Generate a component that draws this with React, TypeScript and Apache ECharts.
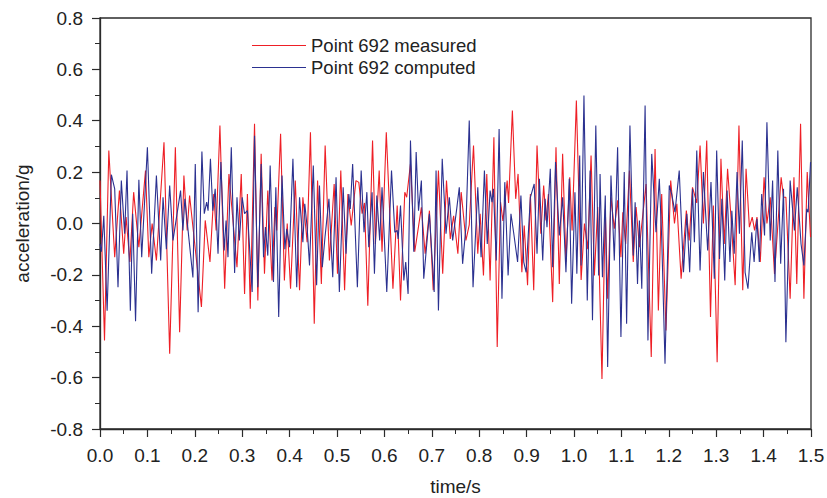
import React, { useEffect, useRef } from "react";
import * as echarts from "echarts";

const measuredTime = [
  0.000, 0.0095, 0.0186, 0.031, 0.041, 0.050, 0.055, 0.063, 0.071, 0.082, 0.096, 0.103, 0.110, 0.119, 0.135, 0.147, 0.159, 0.168, 0.177, 0.184,
  0.189, 0.214, 0.222, 0.232, 0.240, 0.245, 0.253, 0.263, 0.272, 0.289, 0.298, 0.305, 0.311, 0.317, 0.326, 0.333, 0.340, 0.347, 0.354, 0.363,
  0.369, 0.373, 0.381, 0.389, 0.395, 0.402, 0.412, 0.421, 0.428, 0.437, 0.444, 0.452, 0.459, 0.467, 0.475, 0.484, 0.494, 0.501, 0.508, 0.516,
  0.523, 0.530, 0.540, 0.546, 0.553, 0.558, 0.565, 0.575, 0.581, 0.589, 0.595, 0.604, 0.618, 0.627, 0.634, 0.643, 0.647, 0.655, 0.664, 0.678,
  0.686, 0.695, 0.703, 0.714, 0.723, 0.731, 0.739, 0.746, 0.755, 0.762, 0.772, 0.779, 0.788, 0.797, 0.802, 0.809, 0.816, 0.823, 0.831, 0.838,
  0.845, 0.850, 0.859, 0.862, 0.870, 0.877, 0.882, 0.890, 0.895, 0.902, 0.908, 0.915, 0.922, 0.930, 0.936, 0.941, 0.946, 0.955, 0.962, 0.969,
  0.976, 0.983, 0.991, 0.996, 1.005, 1.015, 1.022, 1.029, 1.036, 1.043, 1.050, 1.059, 1.066, 1.071, 1.078, 1.085, 1.092, 1.099, 1.103, 1.109,
  1.117, 1.125, 1.131, 1.138, 1.152, 1.163, 1.171, 1.178, 1.185, 1.194, 1.204, 1.212, 1.217, 1.226, 1.237, 1.243, 1.250, 1.259, 1.266, 1.273,
  1.280, 1.288, 1.294, 1.302, 1.310, 1.317, 1.324, 1.331, 1.340, 1.348, 1.356, 1.363, 1.370, 1.376, 1.381, 1.386, 1.393, 1.401, 1.407, 1.414,
  1.423, 1.437, 1.442, 1.447, 1.456, 1.464, 1.470, 1.478, 1.485, 1.492, 1.499,
];
const measuredAccel = [
  0.167, -0.455, 0.284, -0.131, 0.128, -0.118, 0.025, -0.150, 0.122, -0.092, 0.206, -0.131, 0.000, -0.144, 0.316, -0.507, 0.297, -0.423, 0.187, -0.027,
  0.109, -0.325, 0.012, -0.150, 0.115, -0.027, 0.381, -0.254, 0.193, -0.170, 0.193, -0.274, 0.115, -0.332, 0.388, -0.300, 0.271, -0.196, 0.128, -0.222,
  0.064, -0.027, 0.349, -0.222, 0.000, -0.254, 0.167, -0.260, 0.102, -0.073, 0.355, -0.390, 0.167, -0.235, 0.304, -0.144, 0.154, -0.196, 0.206, -0.260,
  0.115, -0.008, 0.167, 0.160, 0.038, 0.080, -0.320, 0.323, -0.080, 0.206, -0.110, 0.355, -0.254, 0.070, -0.300, 0.122, 0.102, 0.232, -0.110, 0.063,
  -0.118, 0.050, -0.260, 0.206, -0.196, 0.167, -0.060, 0.030, -0.118, 0.122, -0.066, -0.005, 0.304, -0.118, 0.038, -0.202, 0.193, -0.222, 0.336, -0.481,
  0.083, 0.010, 0.167, 0.080, 0.440, 0.096, 0.193, -0.190, -0.008, -0.240, 0.115, -0.260, 0.304, -0.040, 0.148, 0.012, 0.115, -0.306, 0.297, -0.235,
  0.271, -0.150, 0.180, -0.027, 0.479, -0.220, 0.000, -0.100, 0.265, -0.202, 0.064, -0.605, 0.057, -0.293, 0.102, -0.020, 0.090, -0.131, 0.044, -0.080,
  0.206, -0.150, 0.064, -0.092, 0.154, -0.520, 0.290, -0.339, 0.115, -0.416, 0.167, 0.000, 0.077, -0.215, 0.050, -0.066, 0.141, 0.080, 0.304, 0.000,
  0.323, -0.364, 0.070, -0.540, 0.252, -0.080, 0.213, 0.030, -0.240, 0.381, -0.260, 0.213, -0.014, 0.025, -0.027, 0.025, -0.150, 0.180, 0.000, 0.102,
  -0.196, 0.180, 0.102, 0.102, -0.293, 0.180, -0.235, 0.388, -0.293, 0.200, -0.053,
];

const computedTime = [
  0.000, 0.003, 0.008, 0.015, 0.024, 0.031, 0.038, 0.045, 0.052, 0.057, 0.064, 0.069, 0.075, 0.082, 0.088, 0.100, 0.109, 0.119, 0.128, 0.133,
  0.140, 0.147, 0.154, 0.170, 0.175, 0.179, 0.196, 0.201, 0.207, 0.215, 0.220, 0.225, 0.228, 0.233, 0.238, 0.243, 0.249, 0.255, 0.262, 0.266,
  0.270, 0.277, 0.284, 0.289, 0.294, 0.300, 0.305, 0.311, 0.321, 0.326, 0.333, 0.340, 0.345, 0.349, 0.354, 0.359, 0.366, 0.371, 0.377, 0.384,
  0.390, 0.394, 0.400, 0.407, 0.415, 0.421, 0.428, 0.432, 0.437, 0.442, 0.450, 0.457, 0.463, 0.469, 0.475, 0.483, 0.491, 0.498, 0.505, 0.513,
  0.519, 0.525, 0.528, 0.533, 0.543, 0.551, 0.557, 0.563, 0.567, 0.574, 0.579, 0.584, 0.590, 0.595, 0.605, 0.615, 0.622, 0.627, 0.629, 0.634,
  0.641, 0.645, 0.650, 0.655, 0.662, 0.667, 0.672, 0.678, 0.683, 0.695, 0.705, 0.709, 0.714, 0.722, 0.730, 0.737, 0.744, 0.753, 0.758, 0.765,
  0.772, 0.779, 0.787, 0.797, 0.804, 0.811, 0.817, 0.823, 0.827, 0.830, 0.836, 0.842, 0.848, 0.854, 0.861, 0.867, 0.873, 0.881, 0.888, 0.894,
  0.899, 0.908, 0.916, 0.922, 0.927, 0.934, 0.939, 0.943, 0.950, 0.955, 0.961, 0.969, 0.976, 0.983, 0.990, 0.995, 1.002, 1.006, 1.012, 1.015,
  1.021, 1.028, 1.034, 1.039, 1.046, 1.052, 1.055, 1.060, 1.066, 1.071, 1.078, 1.085, 1.092, 1.099, 1.106, 1.111, 1.118, 1.125, 1.129, 1.134,
  1.138, 1.143, 1.150, 1.156, 1.164, 1.173, 1.180, 1.185, 1.192, 1.201, 1.206, 1.213, 1.222, 1.231, 1.238, 1.244, 1.250, 1.254, 1.259, 1.266,
  1.273, 1.282, 1.289, 1.296, 1.301, 1.307, 1.312, 1.318, 1.323, 1.329, 1.333, 1.338, 1.344, 1.349, 1.355, 1.361, 1.367, 1.375, 1.380, 1.386,
  1.391, 1.396, 1.402, 1.407, 1.414, 1.419, 1.424, 1.430, 1.436, 1.442, 1.447, 1.456, 1.465, 1.471, 1.479, 1.485, 1.491, 1.494, 1.499,
];
const computedAccel = [
  -0.080, -0.110, 0.030, -0.340, 0.190, 0.135, -0.248, 0.167, -0.040, 0.206, -0.340, 0.038, -0.380, 0.170, -0.131, 0.297, -0.196, 0.187, -0.144, 0.102,
  -0.100, 0.148, -0.066, 0.128, -0.027, 0.096, -0.210, 0.232, -0.345, 0.280, 0.038, 0.083, 0.050, 0.252, 0.050, 0.135, -0.118, 0.239, -0.105, 0.012,
  -0.131, 0.297, -0.193, 0.102, -0.066, 0.102, 0.038, 0.050, -0.267, 0.342, -0.248, 0.232, -0.131, -0.014, -0.125, 0.226, -0.228, 0.141, -0.364, 0.187,
  -0.100, -0.021, -0.092, 0.252, -0.248, 0.102, -0.073, 0.077, -0.014, -0.163, 0.226, -0.240, 0.148, -0.170, -0.047, 0.096, -0.209, 0.180, -0.267, 0.141,
  -0.118, 0.115, 0.057, 0.232, -0.248, 0.206, -0.034, 0.122, -0.092, 0.122, -0.196, 0.109, -0.066, 0.141, -0.267, 0.206, -0.034, -0.027, -0.060, 0.070,
  -0.222, -0.150, -0.274, 0.323, -0.110, 0.278, 0.050, 0.167, -0.215, 0.038, -0.267, 0.206, -0.339, 0.252, -0.040, 0.102, -0.066, 0.064, 0.141, -0.157,
  -0.014, 0.401, -0.248, 0.141, -0.131, 0.206, -0.080, 0.128, 0.083, 0.135, -0.144, 0.368, -0.293, 0.161, -0.202, 0.038, -0.040, -0.150, 0.109, -0.150,
  -0.190, 0.102, 0.154, -0.118, 0.174, -0.144, 0.096, -0.014, 0.213, -0.170, 0.239, -0.047, 0.102, -0.190, 0.174, -0.312, 0.122, -0.196, 0.265, -0.163,
  0.498, -0.300, 0.206, -0.377, 0.381, -0.202, 0.193, -0.209, 0.109, -0.559, 0.187, -0.144, 0.297, -0.442, 0.200, -0.390, 0.381, -0.125, 0.083, -0.235,
  0.012, -0.254, 0.459, -0.455, 0.271, -0.034, 0.174, -0.053, -0.546, 0.148, 0.115, 0.044, 0.206, -0.190, 0.038, -0.190, 0.135, -0.073, 0.284, -0.183,
  0.200, -0.105, 0.161, -0.215, 0.284, -0.138, 0.096, -0.222, 0.128, -0.150, 0.050, -0.118, 0.200, -0.040, 0.323, -0.190, -0.254, -0.034, -0.150, 0.018,
  -0.150, 0.115, -0.047, 0.394, -0.066, 0.167, -0.228, 0.284, -0.157, 0.135, -0.462, 0.167, -0.027, 0.141, -0.080, -0.163, 0.057, 0.044, 0.239,
];

const seriesNames = ["Point 692 measured", "Point 692 computed"];
const xAxisTitle = "time/s";
const yAxisTitle = "acceleration/g";

const FONT = "'Liberation Sans', Arial, Helvetica, sans-serif";
const AXIS_COLOR = "#2b2b2b";
const RED = "#ee1f26";
const BLUE = "#2b3190";

export default function App() {
  const ref = useRef<HTMLDivElement>(null);

  useEffect(() => {
    if (!ref.current) return;
    const chart = echarts.init(ref.current, undefined, { renderer: "svg" });
    const measured = measuredTime.map((t, i) => [t, measuredAccel[i]]);
    const computed = computedTime.map((t, i) => [t, computedAccel[i]]);

    const axisCommon = {
      axisLine: { show: true, onZero: false, lineStyle: { color: AXIS_COLOR, width: 1.3 } },
      axisTick: { show: true, inside: false, length: 8, lineStyle: { color: AXIS_COLOR, width: 1.2 } },
      minorTick: { show: true, splitNumber: 2, length: 5, lineStyle: { color: AXIS_COLOR, width: 1 } },
      splitLine: { show: false },
      minorSplitLine: { show: false },
    };

    chart.setOption({
      animation: false,
      backgroundColor: "#ffffff",
      textStyle: { fontFamily: FONT },
      grid: {
        left: 100,
        right: 16,
        top: 18,
        bottom: 69,
        containLabel: false,
        outerBoundsMode: "none",
        show: true,
        borderColor: AXIS_COLOR,
        borderWidth: 1.3,
        backgroundColor: "transparent",
      },
      legend: {
        orient: "vertical",
        left: 247,
        top: 31,
        icon: "rect",
        itemWidth: 54,
        itemHeight: 1.2,
        itemGap: 3,
        textStyle: { fontFamily: FONT, fontSize: 18.5, color: "#222" },
        data: [
          { name: seriesNames[0], icon: "rect", itemStyle: { color: RED, borderWidth: 0 }, lineStyle: { color: RED } },
          { name: seriesNames[1], icon: "rect", itemStyle: { color: BLUE, borderWidth: 0 }, lineStyle: { color: BLUE } },
        ],
      },
      xAxis: {
        type: "value",
        min: 0,
        max: 1.5,
        interval: 0.1,
        name: xAxisTitle,
        nameLocation: "middle",
        nameGap: 48,
        nameTextStyle: { fontFamily: FONT, fontSize: 19, color: "#222" },
        axisLabel: {
          fontFamily: FONT,
          fontSize: 19,
          color: "#222",
          margin: 17,
          formatter: (v: number) => v.toFixed(1),
        },
        ...axisCommon,
      },
      yAxis: {
        type: "value",
        min: -0.8,
        max: 0.8,
        interval: 0.2,
        name: yAxisTitle,
        nameLocation: "middle",
        nameRotate: 90,
        nameGap: 68,
        nameTextStyle: { fontFamily: FONT, fontSize: 19, color: "#222" },
        axisLabel: {
          fontFamily: FONT,
          fontSize: 19,
          color: "#222",
          margin: 17,
          formatter: (v: number) => v.toFixed(1),
        },
        ...axisCommon,
      },
      series: [
        {
          name: seriesNames[0],
          type: "line",
          data: measured,
          symbol: "none",
          showSymbol: false,
          smooth: false,
          color: RED,
          lineStyle: { color: RED, width: 1.1 },
          itemStyle: { color: RED },
          z: 2,
        },
        {
          name: seriesNames[1],
          type: "line",
          data: computed,
          symbol: "none",
          showSymbol: false,
          smooth: false,
          color: BLUE,
          lineStyle: { color: BLUE, width: 1.1 },
          itemStyle: { color: BLUE },
          z: 3,
        },
      ],
    });

    return () => chart.dispose();
  }, []);

  return (
    <div
      ref={ref}
      style={{ position: "fixed", left: 0, top: 0, width: 827, height: 498, background: "#fff" }}
    />
  );
}
